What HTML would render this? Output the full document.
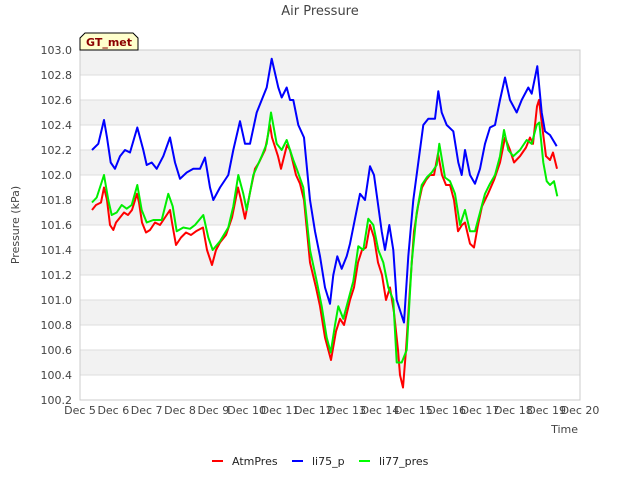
<!DOCTYPE html>
<html><head><meta charset="utf-8"><style>
body{margin:0;background:#fff;font-family:"DejaVu Sans","Liberation Sans",sans-serif}
svg text{font-family:"DejaVu Sans","Liberation Sans",sans-serif}
</style></head><body>
<svg id="c" width="640" height="480" viewBox="0 0 640 480">
<text x="320" y="15" text-anchor="middle" font-size="13" fill="#444">Air Pressure</text>
<g id="grid"></g>
<rect x="80" y="50" width="500" height="350" fill="none" stroke="#ccc"/>
<g id="series"></g>
<g id="axes"></g>
<path d="M80,50 L80,38 L85,33 L133,33 L138,38 L138,50 Z" fill="#ffffcc" stroke="#000"/>
<text x="109" y="46" text-anchor="middle" font-size="11" font-weight="bold" fill="#8b0000">GT_met</text>
<text x="19" y="225" text-anchor="middle" font-size="11" fill="#444" transform="rotate(-90 19 225)">Pressure (kPa)</text>
<text x="578" y="433" text-anchor="end" font-size="11" fill="#444">Time</text>
<g>
<line x1="212" y1="461" x2="223" y2="461" stroke="#f00" stroke-width="2"/>
<text x="232" y="465" font-size="11" fill="#222">AtmPres</text>
<line x1="292" y1="461" x2="303" y2="461" stroke="#00f" stroke-width="2"/>
<text x="312" y="465" font-size="11" fill="#222">li75_p</text>
<line x1="359" y1="461" x2="370" y2="461" stroke="#0f0" stroke-width="2"/>
<text x="379" y="465" font-size="11" fill="#222">li77_pres</text>
</g>
</svg>
<script>
const yTicks=[100.2,100.4,100.6,100.8,101.0,101.2,101.4,101.6,101.8,102.0,102.2,102.4,102.6,102.8,103.0];
const xTickDays=[5,6,7,8,9,10,11,12,13,14,15,16,17,18,19,20];
const atmDays=[5.36,5.48,5.63,5.72,5.81,5.9,6.0,6.08,6.2,6.32,6.44,6.56,6.71,6.77,6.86,6.98,7.1,7.25,7.4,7.55,7.7,7.76,7.88,8.03,8.18,8.33,8.48,8.69,8.81,8.96,9.08,9.2,9.38,9.56,9.74,9.83,9.95,10.1,10.25,10.37,10.55,10.7,10.76,10.94,11.03,11.21,11.3,11.39,11.48,11.6,11.72,11.9,12.08,12.2,12.35,12.53,12.68,12.8,12.92,13.1,13.22,13.34,13.46,13.58,13.7,13.82,13.94,14.06,14.18,14.3,14.42,14.54,14.6,14.69,14.78,14.9,15.02,15.14,15.26,15.38,15.5,15.62,15.74,15.86,15.98,16.1,16.22,16.34,16.46,16.55,16.7,16.82,16.94,17.06,17.24,17.42,17.6,17.75,17.9,18.02,18.2,18.38,18.5,18.59,18.71,18.77,18.86,18.98,19.1,19.19,19.31];
const atmVals=[101.72,101.76,101.78,101.9,101.8,101.6,101.56,101.62,101.66,101.7,101.68,101.72,101.85,101.78,101.62,101.54,101.56,101.62,101.6,101.66,101.72,101.62,101.44,101.5,101.54,101.52,101.55,101.58,101.4,101.28,101.4,101.46,101.52,101.66,101.9,101.8,101.65,101.86,102.05,102.1,102.2,102.4,102.3,102.15,102.05,102.24,102.2,102.1,102.0,101.93,101.8,101.3,101.1,100.95,100.7,100.52,100.75,100.85,100.8,101.0,101.1,101.3,101.4,101.42,101.6,101.5,101.3,101.2,101.0,101.1,100.9,100.6,100.4,100.3,100.6,101.1,101.55,101.75,101.9,101.96,102.0,102.0,102.17,102.0,101.92,101.92,101.8,101.55,101.6,101.62,101.45,101.42,101.6,101.75,101.85,101.96,102.1,102.3,102.2,102.1,102.15,102.22,102.3,102.25,102.55,102.6,102.4,102.15,102.12,102.18,102.05];
const li75Days=[5.36,5.55,5.72,5.81,5.92,6.05,6.2,6.35,6.5,6.72,6.9,7.0,7.15,7.3,7.5,7.7,7.85,8.0,8.2,8.4,8.6,8.75,8.9,9.0,9.2,9.45,9.6,9.8,9.95,10.1,10.3,10.45,10.6,10.75,10.95,11.05,11.2,11.3,11.4,11.55,11.72,11.9,12.05,12.2,12.35,12.5,12.6,12.72,12.85,13.0,13.1,13.25,13.4,13.55,13.7,13.82,13.95,14.05,14.15,14.28,14.4,14.5,14.62,14.72,14.85,15.0,15.15,15.3,15.45,15.65,15.75,15.85,16.0,16.2,16.35,16.45,16.55,16.7,16.85,17.0,17.15,17.3,17.45,17.6,17.75,17.9,18.1,18.25,18.45,18.55,18.72,18.85,18.95,19.1,19.3];
const li75Vals=[102.2,102.25,102.44,102.3,102.1,102.05,102.15,102.2,102.18,102.38,102.2,102.08,102.1,102.05,102.15,102.3,102.1,101.97,102.02,102.05,102.05,102.14,101.9,101.8,101.9,102.0,102.2,102.43,102.25,102.25,102.5,102.6,102.7,102.93,102.7,102.62,102.7,102.6,102.6,102.4,102.3,101.8,101.55,101.35,101.1,100.97,101.2,101.35,101.25,101.35,101.45,101.65,101.85,101.8,102.07,102.0,101.75,101.55,101.4,101.6,101.4,101.0,100.9,100.82,101.35,101.8,102.1,102.4,102.45,102.45,102.67,102.5,102.4,102.35,102.1,102.0,102.2,102.0,101.93,102.05,102.25,102.38,102.4,102.6,102.78,102.6,102.5,102.6,102.7,102.65,102.87,102.5,102.35,102.32,102.23];
const li77Days=[5.36,5.5,5.72,5.85,5.95,6.1,6.25,6.4,6.55,6.72,6.85,7.0,7.2,7.45,7.65,7.78,7.9,8.1,8.3,8.45,8.7,8.85,8.98,9.2,9.45,9.6,9.75,9.9,10.0,10.2,10.45,10.6,10.73,10.9,11.05,11.2,11.4,11.5,11.7,11.9,12.1,12.25,12.4,12.52,12.65,12.75,12.9,13.05,13.2,13.35,13.5,13.65,13.8,13.95,14.1,14.25,14.4,14.5,14.65,14.8,14.95,15.1,15.25,15.4,15.55,15.7,15.78,15.95,16.1,16.25,16.4,16.55,16.7,16.85,17.0,17.15,17.3,17.45,17.6,17.72,17.85,18.0,18.2,18.4,18.55,18.7,18.78,18.9,19.0,19.1,19.22,19.32];
const li77Vals=[101.78,101.82,102.0,101.8,101.68,101.7,101.76,101.73,101.76,101.92,101.72,101.62,101.64,101.64,101.85,101.75,101.55,101.58,101.57,101.6,101.68,101.5,101.4,101.47,101.58,101.75,102.0,101.85,101.72,102.0,102.15,102.25,102.5,102.25,102.2,102.28,102.12,102.05,101.9,101.4,101.15,100.95,100.7,100.58,100.8,100.95,100.85,101.0,101.15,101.43,101.4,101.65,101.6,101.4,101.3,101.1,101.0,100.5,100.5,100.6,101.3,101.7,101.92,101.98,102.02,102.08,102.25,101.98,101.95,101.85,101.6,101.72,101.55,101.55,101.7,101.85,101.93,102.0,102.15,102.36,102.2,102.15,102.2,102.28,102.25,102.4,102.42,102.1,101.95,101.92,101.95,101.83];
const NS="http://www.w3.org/2000/svg";
const X=d=>80+(d-5)*(500/15);
const Y=v=>50+(103.0-v)*125;
function mk(tag,attrs,parent){const e=document.createElementNS(NS,tag);for(const k in attrs)e.setAttribute(k,attrs[k]);parent.appendChild(e);return e;}
const grid=document.getElementById('grid'),axes=document.getElementById('axes'),series=document.getElementById('series');
for(let i=0;i<yTicks.length-1;i++){
  if(i%2===1){const r=mk('rect',{x:80,y:Y(yTicks[i+1]),width:500,height:Y(yTicks[i])-Y(yTicks[i+1]),fill:'#f2f2f2'},grid);
  
  }
}
yTicks.forEach(v=>{
  const l=mk('line',{x1:80,x2:580,y1:Y(v),y2:Y(v),stroke:'#ddd'},grid);
  
  
  const t=mk('text',{x:72,y:Y(v)+4,'text-anchor':'end','font-size':11,fill:'#444'},axes);
  t.textContent=v.toFixed(1);
  
  
});
xTickDays.forEach(d=>{
  const t=mk('text',{x:X(d),y:414,'text-anchor':'middle','font-size':11,fill:'#444'},axes);
  t.textContent='Dec '+d;
  
  
});
function line(days,vals,color,name){
  const p=mk('polyline',{points:days.map((d,i)=>X(d).toFixed(1)+','+Y(vals[i]).toFixed(1)).join(' '),fill:'none',stroke:color,'stroke-width':2,'stroke-linejoin':'round'},series);
  
  
}
line(atmDays,atmVals,'#ff0000','atmpres-line');
line(li75Days,li75Vals,'#0000ff','li75-p-line');
line(li77Days,li77Vals,'#00ee00','li77-pres-line');
</script>
</body></html>
